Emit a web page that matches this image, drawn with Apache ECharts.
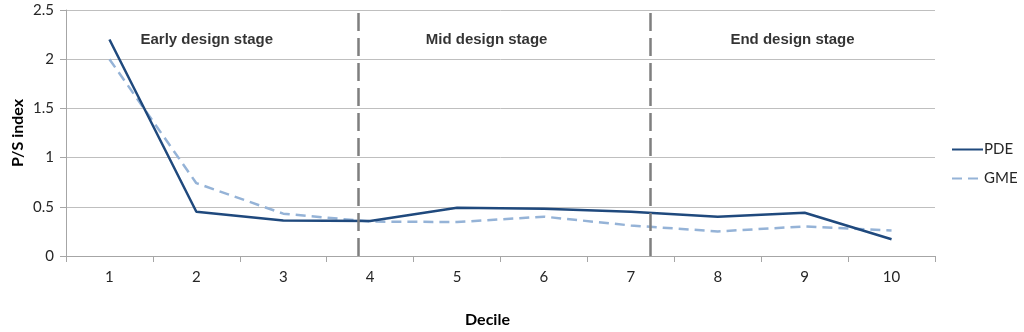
<!DOCTYPE html>
<html>
<head>
<meta charset="utf-8">
<script src="https://cdn.jsdelivr.net/npm/echarts@6/dist/echarts.min.js"></script>
<style>html,body{margin:0;padding:0;background:#fff;}#c{width:1024px;height:332px;}</style>
</head>
<body>
<div id="c"></div>
<script>
const categories = ['1','2','3','4','5','6','7','8','9','10'];
const pde = [2.2, 0.45, 0.36, 0.355, 0.49, 0.48, 0.45, 0.40, 0.44, 0.17];
const gme = [2.0, 0.74, 0.43, 0.35, 0.345, 0.40, 0.31, 0.25, 0.30, 0.26];
const yTicks = [0, 0.5, 1, 1.5, 2, 2.5];
// stage boundaries (in decile units, category centres at 1..10)
const stageBoundaries = [3.86, 7.22];
const stageNames = ['Early design stage', 'Mid design stage', 'End design stage'];
const stageLabelX = [2.12, 5.34, 8.86];
const stageLabelY = [2.2, 2.2, 2.2];

const chart = echarts.init(document.getElementById('c'), null, {renderer: 'canvas'});
const tickFont = 'Lato, "Noto Sans", sans-serif';
chart.setOption({
  animation: false,
  grid: {left: 66, right: 89, top: 10, bottom: 76, containLabel: false, outerBoundsMode: 'none'},
  legend: {
    data: ['PDE', 'GME'],
    orient: 'vertical',
    left: 946, top: 137,
    itemWidth: 31, itemHeight: 14, itemGap: 14,
    itemStyle: {opacity: 0},
    textStyle: {fontFamily: tickFont, fontSize: 15, color: '#262626', padding: [0,0,0,-4]}
  },
  xAxis: [{
    type: 'category',
    data: categories,
    boundaryGap: true,
    name: 'Decile',
    nameLocation: 'middle',
    nameGap: 56,
    nameTextStyle: {fontFamily: tickFont, fontWeight: 'bold', fontSize: 16, color: '#000', padding: [0, 26, 0, 0]},
    axisLine: {lineStyle: {color: '#a6a6a6', width: 1}},
    axisTick: {show: true, length: 6, lineStyle: {color: '#a6a6a6'}},
    axisLabel: {fontFamily: tickFont, fontSize: 15, color: '#262626', margin: 14},
    splitLine: {show: false}
  }, {
    type: 'value', min: 0.5, max: 10.5, show: false
  }],
  yAxis: {
    type: 'value',
    min: 0, max: 2.5, interval: 0.5,
    name: 'P/S index',
    nameLocation: 'middle',
    nameGap: 40,
    nameMoveOverlap: false,
    nameTextStyle: {fontFamily: tickFont, fontWeight: 'bold', fontSize: 16, color: '#000'},
    axisLine: {show: true, lineStyle: {color: '#a6a6a6', width: 1}},
    axisTick: {show: true, length: 6, lineStyle: {color: '#a6a6a6'}},
    axisLabel: {fontFamily: tickFont, fontSize: 15, color: '#262626', margin: 12,
      formatter: v => yTicks.includes(v) ? String(v) : ''},
    splitLine: {show: true, lineStyle: {color: '#bfbfbf', width: 1}}
  },
  series: [{
    name: 'PDE', type: 'line', data: pde, symbol: 'none',
    lineStyle: {color: '#1f497d', width: 2.5},
    itemStyle: {color: '#1f497d'}, z: 4
  }, {
    name: 'GME', type: 'line', data: gme, symbol: 'none',
    lineStyle: {color: '#95b3d7', width: 2.5, type: [10, 6]},
    itemStyle: {color: '#95b3d7'}, z: 3
  }, {
    name: 'stages', type: 'scatter', xAxisIndex: 1, yAxisIndex: 0,
    symbolSize: 0,
    data: stageNames.map((n, i) => ({name: n, value: [stageLabelX[i], stageLabelY[i]]})),
    label: {show: true, position: 'inside', formatter: p => p.name,
      fontFamily: '"Liberation Sans", Arial, sans-serif', fontWeight: 'bold', fontSize: 15, color: '#000'},
    silent: true,
    markLine: {
      silent: true, symbol: 'none', animation: false,
      label: {show: false},
      lineStyle: {color: '#7f7f7f', width: 2.5, type: [18, 7]},
      data: stageBoundaries.map(b => ({xAxis: b}))
    },
    z: 5
  }]
});
</script>
</body>
</html>
